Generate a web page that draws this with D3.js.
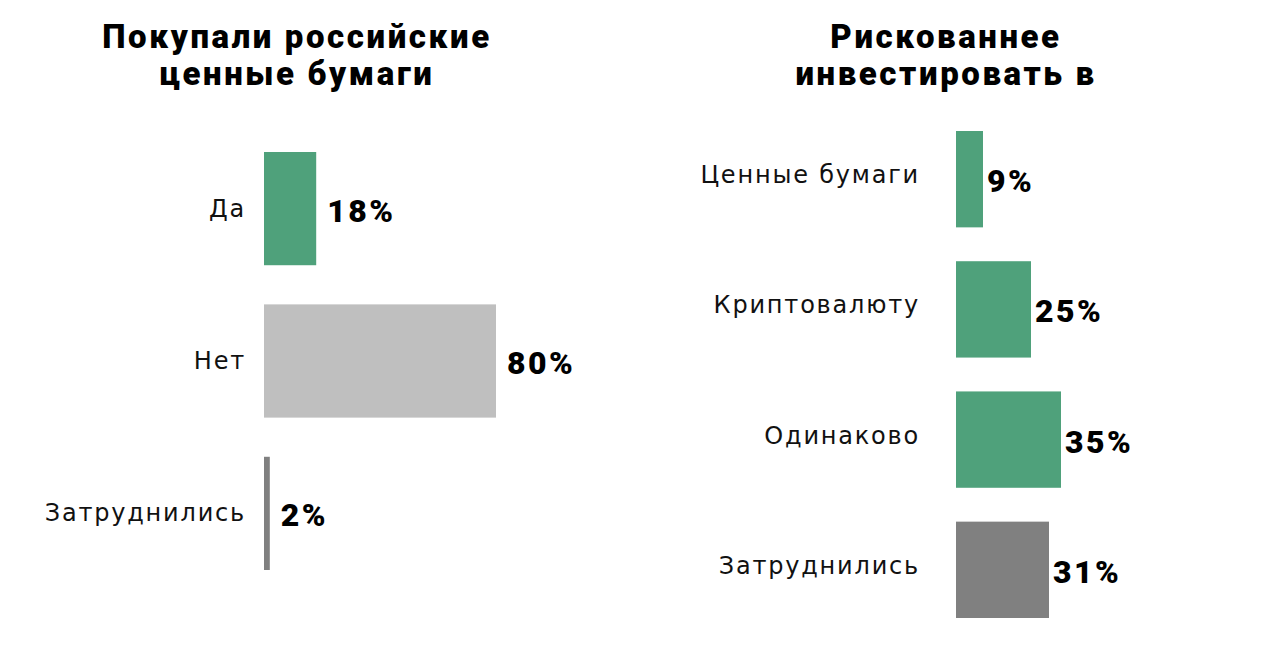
<!DOCTYPE html>
<html lang="ru">
<head>
<meta charset="UTF-8">
<title>Ценные бумаги</title>
<style>
  body { margin: 0; background: #fff; }
  .title { font-family: "Roboto", sans-serif; font-weight: 900; font-size: 33px; letter-spacing: 2.6px; fill: #000; }
  .cat { font-family: "DejaVu Sans", sans-serif; font-size: 24px; letter-spacing: 1.8px; fill: #111; }
  .val { font-family: "Roboto", sans-serif; font-weight: 900; font-size: 32px; letter-spacing: 2.5px; fill: #000; }
</style>
</head>
<body>
<script src="https://d3js.org/d3.v7.min.js"></script>
<script>
// left panel
var leftTitle = ["Покупали российские", "ценные бумаги"];
var leftCats = ["Да", "Нет", "Затруднились"];
var leftVals = [18, 80, 2];
var leftColors = ["#4fa17b", "#bfbfbf", "#808080"];

// right panel
var rightTitle = ["Рискованнее", "инвестировать в"];
var rightCats = ["Ценные бумаги", "Криптовалюту", "Одинаково", "Затруднились"];
var rightVals = [9, 25, 35, 31];
var rightColors = ["#4fa17b", "#4fa17b", "#4fa17b", "#808080"];

var svg = d3.select("body").append("svg")
    .attr("width", 1278)
    .attr("height", 660);

function panel(opts) {
    var g = svg.append("g");

    var x = d3.scaleLinear().domain([0, 100]).range([opts.x0, opts.x0 + opts.pxPer100]);
    var y = d3.scaleBand().domain(opts.cats)
        .range([opts.y0, opts.y1])
        .paddingInner(opts.pad).paddingOuter(0);

    var t = g.append("text").attr("class", "title")
        .attr("text-anchor", "middle")
        .attr("x", opts.titleX).attr("y", 48);
    t.selectAll("tspan").data(opts.title).enter().append("tspan")
        .attr("x", opts.titleX)
        .attr("dy", function (d, i) { return i === 0 ? 0 : 37; })
        .text(function (d) { return d; });

    var data = opts.cats.map(function (c, i) {
        return { cat: c, val: opts.vals[i], color: opts.colors[i] };
    });

    g.selectAll("rect").data(data).enter().append("rect")
        .attr("x", x(0))
        .attr("y", function (d) { return y(d.cat); })
        .attr("width", function (d) { return x(d.val) - x(0); })
        .attr("height", y.bandwidth())
        .attr("fill", function (d) { return d.color; });

    g.selectAll(".cat").data(data).enter().append("text")
        .attr("class", "cat")
        .attr("text-anchor", "end")
        .attr("x", opts.labelX)
        .attr("y", function (d) { return y(d.cat) + y.bandwidth() / 2 + opts.catDy; })
        .attr("dominant-baseline", "central")
        .text(function (d) { return d.cat; });

    g.selectAll(".val").data(data).enter().append("text")
        .attr("class", "val")
        .attr("x", function (d) { return x(d.val) + opts.valGap; })
        .attr("y", function (d) { return y(d.cat) + y.bandwidth() / 2 + 2; })
        .attr("dominant-baseline", "central")
        .text(function (d) { return d.val + "%"; });
}

panel({
    title: leftTitle, titleX: 297,
    cats: leftCats, vals: leftVals, colors: leftColors,
    x0: 264, pxPer100: 290,
    y0: 152, y1: 570, pad: 0.257,
    labelX: 246, catDy: 0, valGap: 11
});

panel({
    title: rightTitle, titleX: 946,
    cats: rightCats, vals: rightVals, colors: rightColors,
    x0: 956, pxPer100: 300,
    y0: 131, y1: 618, pad: 0.26,
    labelX: 920, catDy: -4, valGap: 4
});
</script>
</body>
</html>
